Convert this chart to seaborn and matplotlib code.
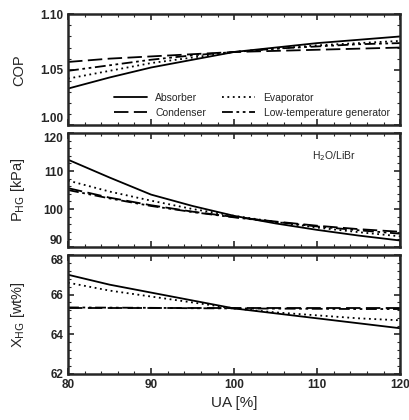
import pandas as pd
import matplotlib
matplotlib.use("Agg")
from matplotlib import pyplot as plt
from matplotlib.ticker import MultipleLocator
import seaborn as sns

ua = [80, 85, 90, 95, 100, 105, 110, 115, 120]
components = ["Absorber", "Condenser", "Evaporator", "Low-temperature generator"]

# COP
cop_absorber = [1.033, 1.043, 1.052, 1.059, 1.066, 1.070, 1.074, 1.077, 1.080]
cop_condenser = [1.057, 1.060, 1.062, 1.064, 1.066, 1.067, 1.068, 1.069, 1.070]
cop_evaporator = [1.042, 1.049, 1.056, 1.061, 1.066, 1.069, 1.072, 1.074, 1.076]
cop_ltg = [1.049, 1.054, 1.059, 1.063, 1.066, 1.069, 1.071, 1.073, 1.074]

# P_HG [kPa]
p_absorber = [113.0, 108.3, 103.8, 100.8, 98.2, 96.2, 94.5, 93.0, 91.7]
p_condenser = [105.5, 103.0, 101.0, 99.3, 97.9, 96.7, 95.6, 94.7, 94.0]
p_evaporator = [107.5, 104.6, 102.2, 100.0, 98.2, 96.6, 95.1, 93.9, 92.8]
p_ltg = [105.0, 102.8, 100.8, 99.2, 97.8, 96.6, 95.4, 94.4, 93.5]

# X_HG [wt%]
x_absorber = [67.0, 66.5, 66.1, 65.7, 65.3, 65.05, 64.8, 64.55, 64.3]
x_condenser = [65.3] * 9
x_evaporator = [66.6, 66.2, 65.9, 65.6, 65.3, 65.1, 64.95, 64.8, 64.7]
x_ltg = [65.35, 65.34, 65.33, 65.31, 65.3, 65.29, 65.28, 65.27, 65.27]


def to_long(series):
    rows = []
    for name, vals in zip(components, series):
        for u, v in zip(ua, vals):
            rows.append({"UA": u, "value": v, "component": name})
    return pd.DataFrame(rows)


cop_df = to_long([cop_absorber, cop_condenser, cop_evaporator, cop_ltg])
p_df = to_long([p_absorber, p_condenser, p_evaporator, p_ltg])
x_df = to_long([x_absorber, x_condenser, x_evaporator, x_ltg])

sns.set_style("ticks")
plt.rcParams["font.family"] = ["Liberation Sans", "DejaVu Sans"]

dashes = {
    "Absorber": "",
    "Condenser": (8, 3),
    "Evaporator": (1, 2),
    "Low-temperature generator": (6, 2, 1.5, 2, 1.5, 2),
}

fig = plt.figure(figsize=(4.1, 4.2), dpi=100)
ax1 = fig.add_axes([0.166, 0.702, 0.810, 0.264])
ax2 = fig.add_axes([0.166, 0.412, 0.810, 0.271])
ax3 = fig.add_axes([0.166, 0.110, 0.810, 0.283])

for ax, df in [(ax1, cop_df), (ax2, p_df), (ax3, x_df)]:
    sns.lineplot(data=df, x="UA", y="value", hue="component", style="component",
                 palette=["black"] * 4, dashes=dashes, linewidth=1.3, ax=ax,
                 legend=(ax is ax1))
    ax.set_xlim(80, 120)
    ax.xaxis.set_major_locator(MultipleLocator(10))
    ax.xaxis.set_minor_locator(MultipleLocator(2))
    ax.tick_params(which="both", direction="in", top=True, right=True, labelsize=8.5)
    ax.tick_params(which="major", length=4, width=1.2)
    ax.tick_params(which="minor", length=2, width=0.8)
    for s in ax.spines.values():
        s.set_linewidth(1.8)
    ax.set_xlabel("")

ax1.set_ylim(1.00, 1.10)
ax1.set_yticks([1.00, 1.05, 1.10], ["1.00", "1.05", "1.10"])
ax1.yaxis.set_minor_locator(MultipleLocator(0.01))
ax1.set_ylabel("COP", fontsize=10.5)
ax1.tick_params(labelbottom=False)
ax1.legend(ncol=2, loc="lower right", frameon=False, fontsize=7.5,
           handlelength=3.2, columnspacing=1.5, borderaxespad=0.3,
           handletextpad=0.8, labelspacing=0.5, bbox_to_anchor=(0.99, 0.0))

ax2.set_ylim(90, 120)
ax2.set_yticks([90, 100, 110, 120], ["90", "100", "110", "120"])
ax2.yaxis.set_minor_locator(MultipleLocator(2))
ax2.set_ylabel("P$_{\\mathrm{HG}}$ [kPa]", fontsize=10.5)
ax2.tick_params(labelbottom=False)
ax2.text(0.80, 0.80, "H$_2$O/LiBr", transform=ax2.transAxes, fontsize=7.5,
         ha="center", va="center")

ax3.set_ylim(62, 68)
ax3.set_yticks([62, 64, 66, 68], ["62", "64", "66", "68"])
ax3.yaxis.set_minor_locator(MultipleLocator(0.4))
ax3.set_ylabel("X$_{\\mathrm{HG}}$ [wt%]", fontsize=10.5)
ax3.set_xlabel("UA [%]", fontsize=11)

# bold tick labels, and keep the labels at the panel junctions apart
fig.canvas.draw()
for ax in (ax1, ax2, ax3):
    for lab in ax.get_yticklabels() + ax.get_xticklabels():
        lab.set_fontweight("bold")
        txt = lab.get_text()
        if (ax is ax1 and txt == "1.00") or (ax is ax2 and txt == "90"):
            lab.set_verticalalignment("bottom")
        if (ax is ax2 and txt == "120") or (ax is ax3 and txt == "68"):
            lab.set_verticalalignment("top")

for ax in (ax1, ax2, ax3):
    ax.yaxis.set_label_coords(-0.125, 0.5)

fig.savefig("out.png", dpi=100)
